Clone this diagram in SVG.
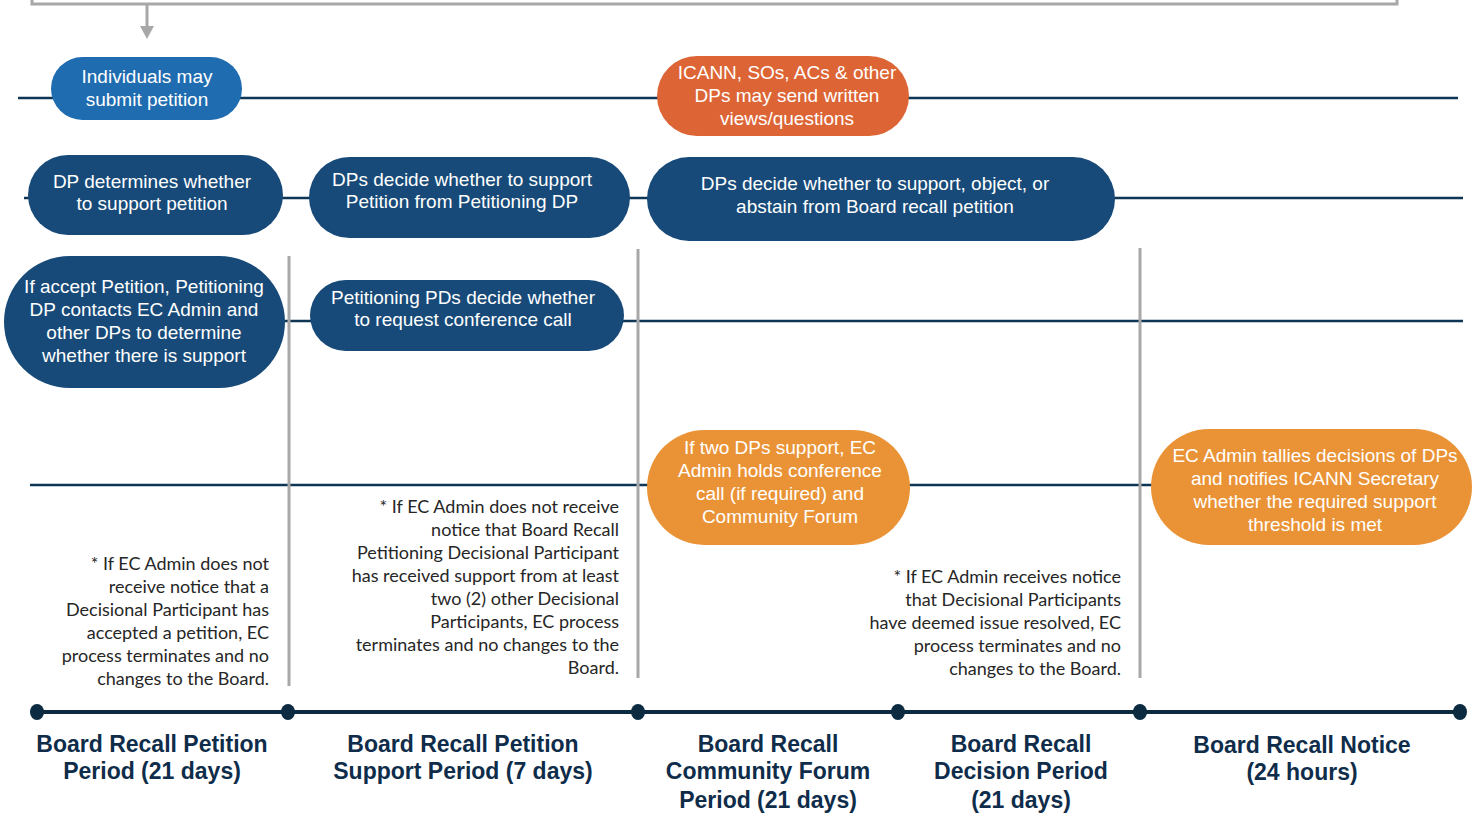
<svg xmlns="http://www.w3.org/2000/svg" width="1480" height="813" viewBox="0 0 1480 813">
<defs>
<style>
.lane{stroke:#0f3554;stroke-width:2.5;fill:none}
.vline{stroke:#a8a8a8;stroke-width:3;fill:none}
.navy{fill:#174a78}
.blue{fill:#1f6cb0}
.or1{fill:#dd6535}
.or2{fill:#ea9336}
.nt{font-family:"Liberation Sans",Arial,sans-serif;font-size:19px;fill:#ffffff;text-anchor:middle}
.note{font-family:Lato,"Liberation Sans",sans-serif;font-size:18px;fill:#262626;text-anchor:end}
.lbl{font-family:"Liberation Sans",Arial,sans-serif;font-size:23px;font-weight:bold;fill:#0f2d4a;text-anchor:middle}
.dot{fill:#0c2a40}
</style>
</defs>
<rect width="1480" height="813" fill="#ffffff"/>

<g id="connectors">
<path class="vline" d="M32,-2 V4 H1397 V-2"/>
<path d="M147,4 V30" stroke="#a8a8a8" stroke-width="3" fill="none"/>
<path d="M140,26 L154,26 L147,39 Z" fill="#a8a8a8"/>
<line class="lane" x1="18" y1="98" x2="1458" y2="98"/>
<line class="lane" x1="24" y1="198" x2="1463" y2="198"/>
<line class="lane" x1="5" y1="321" x2="1463" y2="321"/>
<line class="lane" x1="30" y1="485" x2="1463" y2="485"/>
<line class="vline" x1="289" y1="256" x2="289" y2="686"/>
<line class="vline" x1="638" y1="249" x2="638" y2="678"/>
<line class="vline" x1="1140" y1="248" x2="1140" y2="678"/>
<line x1="37" y1="712" x2="1460" y2="712" stroke="#0c2a40" stroke-width="4"/>
<ellipse class="dot" cx="37" cy="712" rx="7" ry="8"/>
<ellipse class="dot" cx="288" cy="712" rx="7" ry="8"/>
<ellipse class="dot" cx="638" cy="712" rx="7" ry="8"/>
<ellipse class="dot" cx="898" cy="712" rx="7" ry="8"/>
<ellipse class="dot" cx="1140" cy="712" rx="7" ry="8"/>
<ellipse class="dot" cx="1460" cy="712" rx="7" ry="8"/>
</g>

<g id="n-individuals">
<rect class="blue" x="51" y="57" width="191" height="63" rx="31.5"/>
<text class="nt" x="147" y="83">Individuals may</text>
<text class="nt" x="147" y="106">submit petition</text>
</g>

<g id="n-icann">
<rect class="or1" x="657" y="56" width="252" height="80" rx="40"/>
<text class="nt" x="787" y="79">ICANN, SOs, ACs &amp; other</text>
<text class="nt" x="787" y="102">DPs may send written</text>
<text class="nt" x="787" y="125">views/questions</text>
</g>

<g id="n-dp-determines">
<rect class="navy" x="28" y="155" width="255" height="80" rx="40"/>
<text class="nt" x="152" y="188">DP determines whether</text>
<text class="nt" x="152" y="210">to support petition</text>
</g>

<g id="n-dps-decide-support">
<rect class="navy" x="309" y="157" width="321" height="81" rx="40.5"/>
<text class="nt" x="462" y="186">DPs decide whether to support</text>
<text class="nt" x="462" y="208">Petition from Petitioning DP</text>
</g>

<g id="n-dps-decide-object">
<rect class="navy" x="647" y="157" width="468" height="84" rx="42"/>
<text class="nt" x="875" y="190">DPs decide whether to support, object, or</text>
<text class="nt" x="875" y="213">abstain from Board recall petition</text>
</g>

<g id="n-accept">
<rect class="navy" x="4" y="256" width="281" height="132" rx="66"/>
<text class="nt" x="144" y="293">If accept Petition, Petitioning</text>
<text class="nt" x="144" y="316">DP contacts EC Admin and</text>
<text class="nt" x="144" y="339">other DPs to determine</text>
<text class="nt" x="144" y="362">whether there is support</text>
</g>

<g id="n-petitioning-pds">
<rect class="navy" x="310" y="280" width="314" height="71" rx="35.5"/>
<text class="nt" x="463" y="304">Petitioning PDs decide whether</text>
<text class="nt" x="463" y="326">to request conference call</text>
</g>

<g id="n-two-dps">
<rect class="or2" x="647" y="430" width="263" height="115" rx="57.5"/>
<text class="nt" x="780" y="454">If two DPs support, EC</text>
<text class="nt" x="780" y="477">Admin holds conference</text>
<text class="nt" x="780" y="500">call (if required) and</text>
<text class="nt" x="780" y="523">Community Forum</text>
</g>

<g id="n-tallies">
<rect class="or2" x="1151" y="429" width="321" height="116" rx="58"/>
<text class="nt" x="1315" y="462">EC Admin tallies decisions of DPs</text>
<text class="nt" x="1315" y="485">and notifies ICANN Secretary</text>
<text class="nt" x="1315" y="508">whether the required support</text>
<text class="nt" x="1315" y="531">threshold is met</text>
</g>

<g id="note-1">
<text class="note" x="269" y="570">* If EC Admin does not</text>
<text class="note" x="269" y="593">receive notice that a</text>
<text class="note" x="269" y="616">Decisional Participant has</text>
<text class="note" x="269" y="639">accepted a petition, EC</text>
<text class="note" x="269" y="662">process terminates and no</text>
<text class="note" x="269" y="685">changes to the Board.</text>
</g>

<g id="note-2">
<text class="note" x="619" y="513">* If EC Admin does not receive</text>
<text class="note" x="619" y="536">notice that Board Recall</text>
<text class="note" x="619" y="559">Petitioning Decisional Participant</text>
<text class="note" x="619" y="582">has received support from at least</text>
<text class="note" x="619" y="605">two (2) other Decisional</text>
<text class="note" x="619" y="628">Participants, EC process</text>
<text class="note" x="619" y="651">terminates and no changes to the</text>
<text class="note" x="619" y="674">Board.</text>
</g>

<g id="note-3">
<text class="note" x="1121" y="583">* If EC Admin receives notice</text>
<text class="note" x="1121" y="606">that Decisional Participants</text>
<text class="note" x="1121" y="629">have deemed issue resolved, EC</text>
<text class="note" x="1121" y="652">process terminates and no</text>
<text class="note" x="1121" y="675">changes to the Board.</text>
</g>

<g id="label-1">
<text class="lbl" x="152" y="752">Board Recall Petition</text>
<text class="lbl" x="152" y="779">Period (21 days)</text>
</g>
<g id="label-2">
<text class="lbl" x="463" y="752">Board Recall Petition</text>
<text class="lbl" x="463" y="779">Support Period (7 days)</text>
</g>
<g id="label-3">
<text class="lbl" x="768" y="752">Board Recall</text>
<text class="lbl" x="768" y="779">Community Forum</text>
<text class="lbl" x="768" y="808">Period (21 days)</text>
</g>
<g id="label-4">
<text class="lbl" x="1021" y="752">Board Recall</text>
<text class="lbl" x="1021" y="779">Decision Period</text>
<text class="lbl" x="1021" y="808">(21 days)</text>
</g>
<g id="label-5">
<text class="lbl" x="1302" y="753">Board Recall Notice</text>
<text class="lbl" x="1302" y="780">(24 hours)</text>
</g>
</svg>
